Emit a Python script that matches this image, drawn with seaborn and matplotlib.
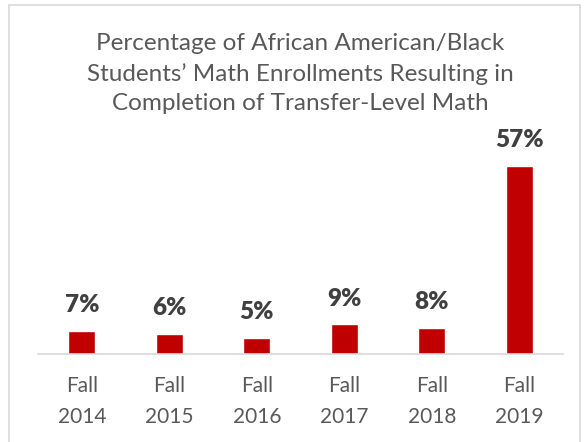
import pandas as pd
import matplotlib.pyplot as plt
import seaborn as sns
from matplotlib.patches import Rectangle

sns.set_theme(style="white")
plt.rcParams["font.family"] = ["Lato", "DejaVu Sans"]

terms = ["Fall\n2014", "Fall\n2015", "Fall\n2016", "Fall\n2017", "Fall\n2018", "Fall\n2019"]
pct = [7, 6, 5, 9, 8, 57]

df = pd.DataFrame({"term": terms, "pct": pct})

fig = plt.figure(figsize=(5.86, 4.42), dpi=100)
ax = fig.add_axes([0.065, 0.199, 0.896, 0.507])

sns.barplot(data=df, x="term", y="pct", color="#C00000", saturation=1, width=0.31, ax=ax)

for i, v in enumerate(pct):
    ax.text(i, v + 4.5, f"{v}%", ha="center", va="bottom",
            fontsize=17.5, fontweight="heavy", color="#404040")

ax.set_ylim(0, 68)
ax.set_xlim(-0.5, 5.5)
ax.set_yticks([])
ax.set_xlabel("")
ax.set_ylabel("")
for s in ["top", "right", "left"]:
    ax.spines[s].set_visible(False)
ax.spines["bottom"].set_color("#D9D9D9")
ax.spines["bottom"].set_linewidth(1.2)
ax.tick_params(axis="x", length=0, pad=16, labelsize=15, labelcolor="#595959")
for lbl in ax.get_xticklabels():
    lbl.set_linespacing(1.65)

fig.text(0.512, 0.925, "Percentage of African American/Black\nStudents\u2019 Math Enrollments Resulting in\nCompletion of Transfer-Level Math",
         ha="center", va="top", fontsize=17.5, color="#595959", linespacing=1.48)

fig.patches.append(Rectangle((9 / 586, -0.01), 571 / 586, 1 - 5 / 442 + 0.01,
                             transform=fig.transFigure, fill=False,
                             edgecolor="#D9D9D9", linewidth=1.2))

plt.savefig("out.png", dpi=100)
